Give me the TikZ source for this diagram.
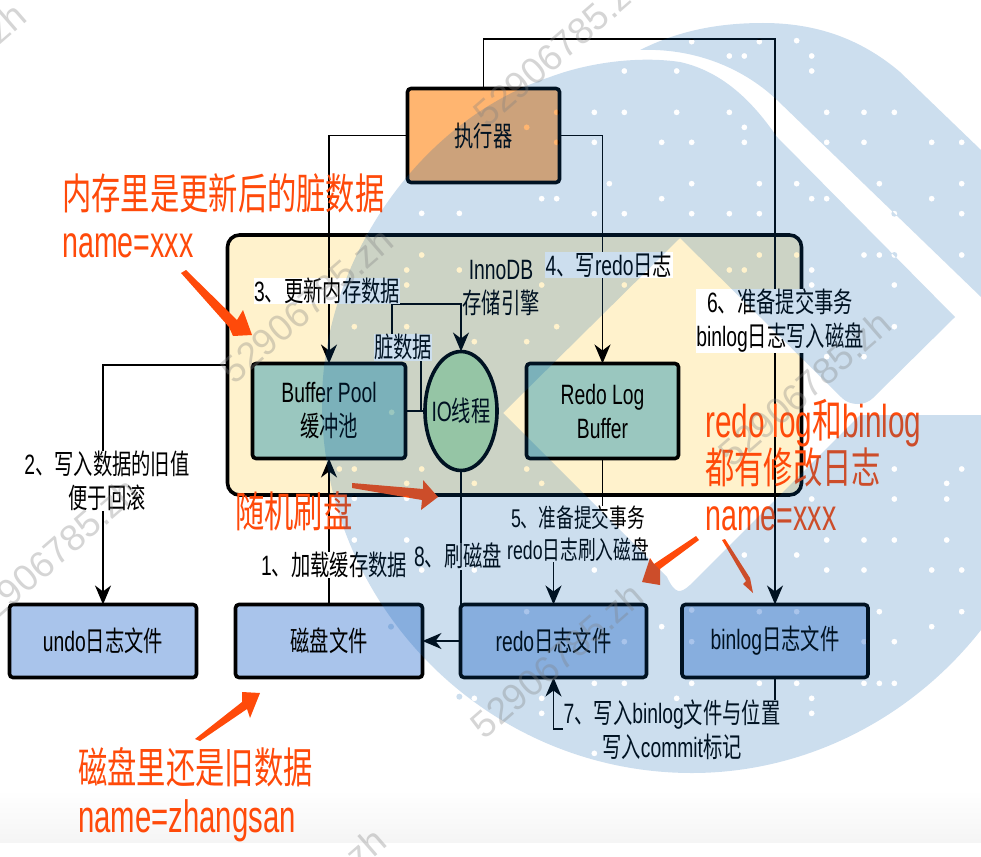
\documentclass[tikz,border=0pt]{standalone}
\usepackage{fontspec}
\usepackage{graphicx}
\setmainfont{Liberation Sans}
\newfontfamily\cjk{Noto Sans CJK SC}
\usetikzlibrary{arrows.meta,shapes.geometric}
\newcommand\C[1]{{\cjk #1}}
\newcommand\ST[1]{\scalebox{1}[1.45]{#1}}
\newcommand\OT[1]{\scalebox{1}[1.45]{#1}}
\newcommand\OL[1]{\scalebox{1}[1.55]{#1}}
\definecolor{edgeorange}{HTML}{FF4A0A}
\definecolor{execfill}{HTML}{FFB570}
\definecolor{outerfill}{HTML}{FFF2CC}
\definecolor{tealfill}{HTML}{9AC7BF}
\definecolor{greenfill}{HTML}{BBE0A4}
\definecolor{bluefill}{HTML}{A9C4EB}
\definecolor{logoblue}{RGB}{0,90,170}
\tikzset{
  box/.style={draw=black,line width=3.6pt,rounded corners=3.5pt,inner sep=0pt,outer sep=0pt,align=center,
    font=\fontsize{19.3}{34}\selectfont},
  conn/.style={draw=black,line width=1.6pt,-{Stealth[length=19pt,width=16pt,inset=6pt]}},
  plain/.style={draw=black,line width=1.6pt},
  lab/.style={fill=white,inner sep=0.5pt,align=center,font=\fontsize{19.3}{34}\selectfont},
  note/.style={text=edgeorange,inner sep=0pt,anchor=west,font=\fontsize{29.3}{36}\selectfont},
  wmark/.style={text=gray,opacity=0.33,rotate=41,inner sep=0pt,font=\fontsize{37}{40}\selectfont},
}
\begin{document}
\begin{tikzpicture}[x=1pt,y=-1pt]
\useasboundingbox (0,0) rectangle (981,856);
\fill[white] (0,0) rectangle (981,856);
\shade[top color=white,bottom color=black!4,draw=none] (0,790) rectangle (981,842);

% main boxes
\node[box,fill=outerfill,minimum width=574pt,minimum height=260pt,rounded corners=12pt] (outer) at (514.5,365) {};
\node[box,fill=execfill,minimum width=152pt,minimum height=94pt] (exec) at (483.5,135.5) {\ST{\C{执行器}}};
\node[box,fill=tealfill,minimum width=153pt,minimum height=95pt] (buf) at (329,411) {\ST{Buffer Pool}\\\ST{\C{缓冲池}}};
\node[box,fill=tealfill,minimum width=152pt,minimum height=95pt] (rlb) at (602.5,411) {\ST{Redo Log}\\\ST{Buffer}};
\node[box,ellipse,fill=greenfill,minimum width=72pt,minimum height=119pt] (io) at (461,411) {\makebox[0pt]{\ST{IO\C{线程}}}};
\node[box,fill=bluefill,minimum width=187pt,minimum height=73pt] (undo) at (103,641) {\ST{undo\C{日志文件}}};
\node[box,fill=bluefill,minimum width=187pt,minimum height=73pt] (disk) at (329,641) {\ST{\C{磁盘文件}}};
\node[box,fill=bluefill,minimum width=186pt,minimum height=73pt] (redo) at (553.5,641) {\ST{redo\C{日志文件}}};
\node[box,fill=bluefill,minimum width=186pt,minimum height=73pt] (binlog) at (775,641) {\ST{binlog\C{日志文件}}};

% routing points
\coordinate (top) at (600,39);
\coordinate (d1) at (421,347);
\coordinate (d2) at (392,304);
\coordinate (m5) at (580,535);
\coordinate (m7) at (660,729);

% connectors
\draw[conn] (exec.north) |- (top) -| (binlog.north);
\draw[conn] (exec.west) -| (buf.north);
\draw[conn] (exec.east) -| (rlb.north);
\draw[plain] (buf.east) -- (io.west);
\draw[conn] (buf.east) -| (d1) -| (d2) -| (io.north);
\draw[conn] (outer.west) -| (undo.north);
\draw[conn] (disk.north) -- (buf.south);
\draw[conn] (rlb.south) |- (m5) -| (redo.north);
\draw[conn] (io.south) |- (disk.east);
\draw[conn] (binlog.south) |- (m7) -| (redo.south);

% labels
\node[lab] (l1) at (334,565) {\ST{1\C{、加载缓存数据}}};
\node[lab] (l2) at (107,481) {\ST{2\C{、写入数据的旧值}}\\\ST{\C{便于回滚}}};
\node[lab] (l3) at (327,291) {\ST{3\C{、更新内存数据}}};
\node[lab] (l4) at (609,265) {\ST{4\C{、写}redo\C{日志}}};
\node[lab,font=\fontsize{17.7}{32}\selectfont] (l5) at (578,534) {\ST{5\C{、准备提交事务}}\\\ST{redo\C{日志刷入磁盘}}};
\node[lab] (l6) at (780,321) {\ST{6\C{、准备提交事务}}\\\ST{binlog\C{日志写入磁盘}}};
\node[lab] (l7) at (672,730) {\ST{7\C{、写入}binlog\C{文件与位置}}\\\ST{\C{写入}commit\C{标记}}};
\node[lab] (l8) at (458,556) {\ST{8\C{、刷磁盘}}};
\node[lab] (ldirty) at (403,347) {\ST{\C{脏数据}}};
\node[lab,fill=none] (inno) at (501,288) {\ST{InnoDB}\\\ST{\C{存储引擎}}};

% orange annotations
\node[note] (n1) at (62,193) {\OT{\C{内存里是更新后的脏数据}}};
\node[note,font=\fontsize{28.6}{36}\selectfont] (n2) at (62,246) {\OL{name=xxx}};
\node[note] (n3) at (235,511) {\OT{\C{随机刷盘}}};
\node[note] (n4) at (78,767) {\OT{\C{磁盘里还是旧数据}}};
\node[note] (n5) at (78,821) {\OL{name=zhangsan}};
\node[note,font=\fontsize{29.7}{36}\selectfont] (n6) at (705,423) {\OL{redo log\C{和}binlog}};
\node[note] (n7) at (705,467) {\OT{\C{都有修改日志}}};
\node[note,font=\fontsize{28.6}{36}\selectfont] (n8) at (705,519) {\OL{name=xxx}};

% annotation arrows
\fill[edgeorange] (181,273) -- (186,270) -- (237,320) -- (243,310) -- (252,335) -- (233,336) -- (229,327) -- cycle;
\fill[edgeorange] (352,483) -- (423,489) -- (423,480) -- (438,497) -- (421,510) -- (422,500) -- (352,488) -- cycle;
\fill[edgeorange] (195,739) -- (242,702) -- (242,692) -- (260,693) -- (250,718) -- (247,709) -- (200,741) -- cycle;
\fill[edgeorange] (696,536) -- (699,540) -- (660,569) -- (660,585) -- (642,582) -- (650,558) -- (654,564) -- cycle;
\fill[edgeorange] (722,540) -- (725,539) -- (750,578) -- (753,593) -- (743,584) -- (746,581) -- cycle;

% translucent logo over everything drawn so far
\fill[logoblue,fill opacity=0.2,even odd rule]
  (981,630) .. controls (911,719) and (805,773) .. (692,773)
  .. controls (488,773) and (322,607) .. (322,403)
  .. controls (322,260) and (420,120) .. (550,77)
  .. controls (590,62) and (640,56) .. (680,62)
  .. controls (725,72) and (755,105) .. (777,137)
  -- (955,317) -- (873,398)
  .. controls (865,406) and (850,406) .. (842,398)
  -- (680,238) -- (503,413) -- (667,577)
  .. controls (675,594) and (680,594) .. (690,585)
  -- (860,415) -- (981,415) -- cycle
  (640,50) .. controls (680,30) and (720,23) .. (763,23)
  .. controls (815,23) and (860,38) .. (900,72)
  -- (981,150) -- (981,297) -- (777,100)
  .. controls (740,65) and (690,48) .. (640,50) -- cycle
  \foreach \p/\q in {605/125,808/125,920/122,718/168,763/168,965/168,403/213,560/213,965/213,
    313/337,403/337,560/337,718/337,1010/337,1122/337,1213/337,763/382,313/427,515/427,605/427,
    763/427,1010/427,1122/427,1325/427,1415/427,358/551,605/551,808/551,920/551,1168/551,1415/551,
    155/596,200/596,515/596,965/596,1010/596,1325/596,313/641,403/641,605/641,718/641,808/641,
    1213/641,1415/641,110/382,200/337,200/427,808/765,920/765,1122/765,1168/765,1213/765,1415/765,
    718/810,763/810,965/810,155/855,403/855,965/855,1213/855,200/980,1213/980,110/1025,1010/1070,1122/1070}
    {({490+\p/3},{\q/3}) circle[radius=3]}
  \foreach \p/\q in {1213/117,1415/117,1370/160,1213/207,1370/207,965/207,1122/330,1213/330,1370/330,
    1010/330,920/375,763/375,1010/420,1122/420,1325/420,1415/420,313/420,605/540,110/545,808/545,
    920/545,1168/545,1415/545,515/590,1325/590,605/635,403/635,1122/635,1213/635,313/760,403/760,
    605/760,808/760,920/760,1122/760,1168/760,1213/760,155/805,560/805,965/805,155/850,965/850,
    313/970,110/117,155/160}
    {({490+\p/3},{430+\q/3}) circle[radius=3]}
  \foreach \p/\q in {1018/117,1063/117,1265/117,1220/160,1423/160,1063/205,1220/205,1063/330,1220/330,
    1265/420,1423/420,1173/590,1423/805,1378/800}
    {({\p/3},{430+\q/3}) circle[radius=3]}
  \foreach \p/\q in {1265/640,1378/640,1265/765,1378/810,1220/810,1220/855,1063/980,1220/980,1423/1025,1175/1237}
    {({\p/3},{\q/3}) circle[radius=3]};

% watermark
\node[wmark] (w1) at (307,305) {52906785.zh};
\node[wmark] (w2) at (560,48) {52906785.zh};
\node[wmark] (w3) at (52,555) {52906785.zh};
\node[wmark] (w4) at (557,660) {52906785.zh};
\node[wmark] (w5) at (805,388) {52906785.zh};
\node[wmark] (w6) at (-60,80) {52906785.zh};
\node[wmark] (w7) at (300,905) {52906785.zh};
\end{tikzpicture}
\end{document}
